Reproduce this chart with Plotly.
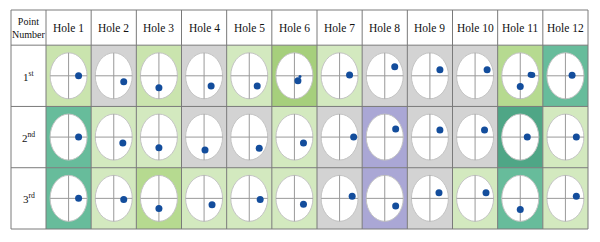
import plotly.graph_objects as go

# ---------------- data ----------------
holes = [f"Hole {i}" for i in range(1, 13)]
point_labels = ["1<sup>st</sup>", "2<sup>nd</sup>", "3<sup>rd</sup>"]
corner_label = "Point<br>Number"

# dot offsets, as fraction of the target radius (x: right +, y: up +)
dx_1st = [0.54, 0.54, 0.00, 0.38, 0.43, 0.19, 0.54, 0.54, 0.54, 0.65, 0.65, 0.36]
dy_1st = [0.00, -0.26, -0.52, -0.44, -0.44, -0.22, 0.04, 0.39, 0.26, 0.26, 0.04, 0.02]
dx_2nd = [0.54, 0.49, 0.00, 0.05, 0.54, 0.49, 0.76, 0.59, 0.54, 0.51, 0.38, 0.59]
dy_2nd = [0.00, -0.26, -0.46, -0.56, -0.48, -0.26, 0.00, 0.35, 0.31, 0.31, 0.00, 0.00]
dx_3rd = [0.54, 0.54, 0.00, 0.43, 0.59, 0.49, 0.68, 0.59, 0.49, 0.59, 0.00, 0.59]
dy_3rd = [0.00, -0.05, -0.44, -0.28, -0.05, -0.26, 0.09, -0.33, 0.24, 0.24, -0.48, 0.09]

# extra dots (hole index 1-based, point row 1-based, dx, dy)
extra_hole = [11, 11, 6]
extra_row = [1, 1, 1]
extra_dx = [0.00, 0.56, 0.30]
extra_dy = [-0.46, 0.05, -0.03]
extra_size = [7, 6, 3]

# background class per cell (rows = point, cols = hole)
cell_class = [
    ["L1", "G", "L1", "G", "L", "M", "L", "G", "G", "G", "Y", "T"],
    ["T", "L", "L", "G", "G", "L", "G", "P", "G", "G", "D", "L"],
    ["T", "L", "Y", "L", "L", "L", "G", "P", "G", "L", "T", "L"],
]

# ---------------- styles ----------------
class_colors = {
    "G": "#d3d3d3",
    "L": "#d3e9bf",
    "L1": "#cae4ae",
    "M": "#a6cf7c",
    "Y": "#b6da90",
    "T": "#67bc9b",
    "D": "#4fa686",
    "P": "#aaa7d5",
}
W, H = 600, 242
x_left, x_right = -0.275, 12.5
y_top, y_bot = -0.074, 3.5
pad_x, pad_y = 1 / 45.17, 1 / 61.28
rx, ry = 18.5 / 45.17, 23 / 61.28
grid_color = "#7a7a7a"
serif = "Liberation Serif, Times New Roman, serif"
dot_color = "#134d9c"

shapes = []
# cell backgrounds
for r in range(3):
    for c in range(12):
        shapes.append(dict(type="rect", xref="x", yref="y",
                           x0=c + 0.5, x1=c + 1.5, y0=r + 0.5, y1=r + 1.5,
                           fillcolor=class_colors[cell_class[r][c]],
                           line=dict(width=0), layer="below"))
# targets
for r in range(3):
    for c in range(12):
        cx, cy = c + 1, r + 1
        shapes.append(dict(type="circle", xref="x", yref="y",
                           x0=cx - rx, x1=cx + rx, y0=cy - ry, y1=cy + ry,
                           fillcolor="white", line=dict(color="#c4c4c4", width=1),
                           layer="below"))
        shapes.append(dict(type="line", xref="x", yref="y",
                           x0=cx - rx, x1=cx + rx, y0=cy, y1=cy,
                           line=dict(color="#999999", width=1), layer="below"))
        shapes.append(dict(type="line", xref="x", yref="y",
                           x0=cx, x1=cx, y0=cy - ry, y1=cy + ry,
                           line=dict(color="#999999", width=1), layer="below"))
# grid lines
xb = [x_left, 0.5] + [i + 0.5 for i in range(1, 13)]
yb = [y_top, 0.5, 1.5, 2.5, 3.5]
for xv in xb:
    shapes.append(dict(type="line", xref="x", yref="y", x0=xv, x1=xv, y0=y_top, y1=y_bot,
                       line=dict(color=grid_color, width=1), layer="below"))
for yv in yb:
    shapes.append(dict(type="line", xref="x", yref="y", x0=x_left, x1=x_right, y0=yv, y1=yv,
                       line=dict(color=grid_color, width=1), layer="below"))

annotations = []
hdr_y = (y_top + 0.5) / 2
for i, h in enumerate(holes):
    annotations.append(dict(x=i + 1, y=hdr_y, xref="x", yref="y", text=h, showarrow=False,
                            font=dict(family=serif, size=11.5, color="#111")))
annotations.append(dict(x=(x_left + 0.5) / 2, y=hdr_y, xref="x", yref="y", text=corner_label,
                        showarrow=False, font=dict(family=serif, size=10, color="#111")))
for r, lab in enumerate(point_labels):
    annotations.append(dict(x=(x_left + 0.5) / 2, y=r + 1, xref="x", yref="y", text=lab,
                            showarrow=False, font=dict(family=serif, size=11, color="#111")))

xs, ys = [], []
for r, (dxs, dys) in enumerate([(dx_1st, dy_1st), (dx_2nd, dy_2nd), (dx_3rd, dy_3rd)]):
    for c in range(12):
        if r == 0 and c == 10:
            continue  # drawn with the extra dots
        xs.append(c + 1 + dxs[c] * rx)
        ys.append(r + 1 - dys[c] * ry)

fig = go.Figure()
fig.add_trace(go.Scatter(x=xs, y=ys, mode="markers",
                         marker=dict(size=7, color=dot_color, opacity=1,
                                     line=dict(width=0)),
                         showlegend=False, hoverinfo="skip"))
fig.add_trace(go.Scatter(
    x=[h + dx * rx for h, dx in zip(extra_hole, extra_dx)] + [11 + dx_1st[10] * rx],
    y=[r - dy * ry for r, dy in zip(extra_row, extra_dy)] + [1 - dy_1st[10] * ry],
    mode="markers",
    marker=dict(size=extra_size + [6], color=dot_color, opacity=1, line=dict(width=0)),
    showlegend=False, hoverinfo="skip"))

fig.update_layout(
    width=W, height=H,
    margin=dict(l=10, r=11, t=9, b=12),
    paper_bgcolor="white", plot_bgcolor="white",
    shapes=shapes, annotations=annotations,
    xaxis=dict(range=[x_left - pad_x, x_right + pad_x], visible=False, fixedrange=True),
    yaxis=dict(range=[y_bot + pad_y, y_top - pad_y], visible=False, fixedrange=True),
)
fig.write_html("out.html")
